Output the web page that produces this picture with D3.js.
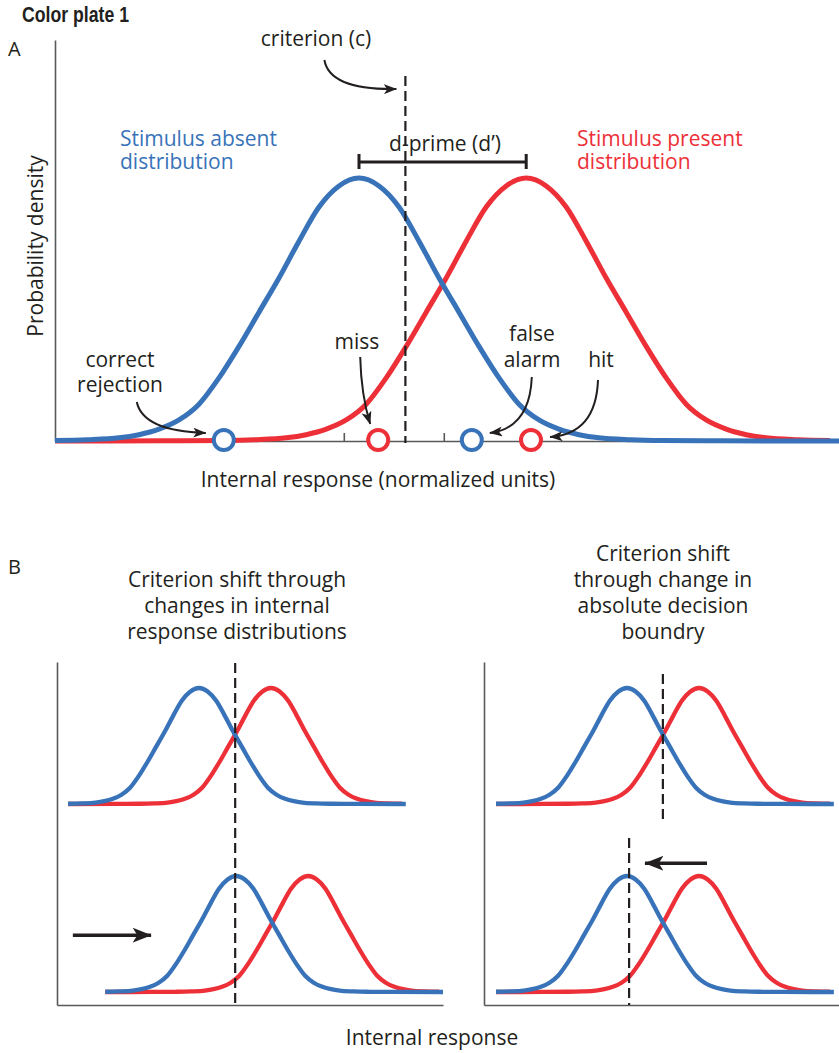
<!DOCTYPE html>
<html>
<head>
<meta charset="utf-8">
<script src="https://cdn.jsdelivr.net/npm/d3@7"></script>
<style>
    body { margin: 0; background: #fff; }
    text { font-family: "Open Sans", sans-serif; fill: #231f20; }
</style>
</head>
<body>
<div id="chart"></div>
<script>
// bell shape: offset from the peak (in sd units) and relative height
const profileZ = [0, 0.25, 0.5, 0.75, 1, 1.25, 1.5, 1.75, 2, 2.25, 2.5, 2.75, 3, 3.4, 3.8, 4.5, 6];
const profileH = [1, 0.97, 0.89, 0.76, 0.62, 0.49, 0.36, 0.24, 0.14, 0.08, 0.045, 0.024, 0.012, 0.005, 0.002, 0.0005, 0];

// panel A (normalized units, sd = 1)
const absentMeanA = 0;
const presentMeanA = 2.09;
const criterionA = 0.58;
const ticksA = [-0.19, 1.06];
const outcomeNames = ["correct rejection", "miss", "false alarm", "hit"];
const outcomeX = [-1.69, 0.24, 1.41, 2.15];
const outcomeDist = ["absent", "present", "absent", "present"];

// panel B: top-left, bottom-left, top-right, bottom-right
const panelCol = ["left", "left", "right", "right"];
const panelRow = ["top", "bottom", "top", "bottom"];
const absentMeansB = [4.12, 5.2, 4.15, 4.15];
const presentMeansB = [6.21, 7.29, 6.24, 6.24];
const criteriaB = [5.17, null, 5.19, 4.21];

const colors = { absent: "#3873b9", present: "#ed2f38", ink: "#231f20", axis: "#58595b" };

const svg = d3.select("#chart")
    .append("svg")
    .attr("width", 839)
    .attr("height", 1053);

const defs = svg.append("defs");

const addHead = (id, w, h) => {
    defs.append("marker")
        .attr("id", id)
        .attr("viewBox", `0 0 ${w} ${h}`)
        .attr("refX", w - 0.5)
        .attr("refY", h / 2)
        .attr("markerWidth", w)
        .attr("markerHeight", h)
        .attr("markerUnits", "userSpaceOnUse")
        .attr("orient", "auto")
        .append("path")
        .attr("d", `M0,0 L${w},${h / 2} L0,${h} L${w * 0.25},${h / 2} Z`)
        .attr("fill", colors.ink);
};
addHead("head-small", 13, 10);
addHead("head-big", 19, 15);

// build the curve points for one distribution
const bellPoints = (mean, lo, hi) => {
    const pts = [];
    profileZ.forEach((z, i) => {
        pts.push([mean - z, profileH[i]]);
        if (z > 0) pts.push([mean + z, profileH[i]]);
    });
    const inside = pts.filter(p => p[0] >= lo - 1e-6 && p[0] <= hi + 1e-6)
        .sort((a, b) => a[0] - b[0]);
    if (inside[0][0] > lo + 1e-6) inside.unshift([lo, 0]);
    if (inside[inside.length - 1][0] < hi - 1e-6) inside.push([hi, 0]);
    return inside;
};

const drawPair = (g, x, y, absentMean, presentMean, width) => {
    const line = d3.line()
        .x(d => x(d[0]))
        .y(d => y(d[1]))
        .curve(d3.curveMonotoneX);
    const lo = absentMean - 3.8;
    g.append("path")
        .attr("d", line(bellPoints(presentMean, lo, presentMean + 3.8)))
        .attr("fill", "none")
        .attr("stroke", colors.present)
        .attr("stroke-width", width);
    g.append("path")
        .attr("d", line(bellPoints(absentMean, lo, absentMean + 6)))
        .attr("fill", "none")
        .attr("stroke", colors.absent)
        .attr("stroke-width", width);
};

const styleAxis = g => {
    g.select(".domain").attr("stroke", colors.axis).attr("stroke-width", 1.6);
    g.selectAll(".tick line").attr("stroke", colors.axis).attr("stroke-width", 1.6);
};

// one text element per line
const addText = (x, y, lines, opts = {}) => {
    lines.forEach((s, i) => {
        const t = svg.append("text")
            .attr("x", x)
            .attr("y", y + i * (opts.lh || 25))
            .attr("font-size", opts.size || 21)
            .attr("text-anchor", opts.anchor || "middle")
            .text(s);
        if (opts.color) t.style("fill", opts.color);
    });
};

// ---------- titles ----------
svg.append("text")
    .attr("x", 22)
    .attr("y", 22)
    .attr("font-size", 22)
    .attr("font-weight", "bold")
    .attr("textLength", 107)
    .attr("lengthAdjust", "spacingAndGlyphs")
    .style("font-family", "'Liberation Sans', Arial, sans-serif")
    .text("Color plate 1");

addText(8, 56, ["A"], { anchor: "start", size: 20 });
addText(8, 574, ["B"], { anchor: "start", size: 20 });

// ---------- panel A ----------
const xA = d3.scaleLinear().domain([-3.8, 6.0]).range([55, 839]);
const yA = d3.scaleLinear().domain([0, 1.525]).range([441, 40]);
const gA = svg.append("g");

gA.append("g")
    .attr("transform", "translate(0,441)")
    .call(d3.axisBottom(xA).tickValues(ticksA).tickSize(-8).tickSizeOuter(0).tickFormat(""))
    .call(styleAxis);
gA.append("g")
    .attr("transform", "translate(55,0)")
    .call(d3.axisLeft(yA).tickValues([]).tickSizeOuter(0))
    .call(styleAxis);

drawPair(gA, xA, yA, absentMeanA, presentMeanA, 5);

// criterion line
const critX = xA(criterionA);
gA.append("line")
    .attr("x1", critX).attr("x2", critX)
    .attr("y1", 76).attr("y2", 443)
    .attr("stroke", colors.ink)
    .attr("stroke-width", 2.2)
    .attr("stroke-dasharray", "10,5");

// d-prime bracket
const dpY = 162;
gA.append("path")
    .attr("d", `M${xA(absentMeanA)},${dpY - 8}V${dpY + 7}M${xA(absentMeanA)},${dpY}H${xA(presentMeanA)}M${xA(presentMeanA)},${dpY - 8}V${dpY + 7}`)
    .attr("fill", "none")
    .attr("stroke", colors.ink)
    .attr("stroke-width", 3);

// outcome circles
const outcomes = outcomeNames.map((name, i) => ({ name, x: outcomeX[i], dist: outcomeDist[i] }));
gA.selectAll("circle.outcome")
    .data(outcomes)
    .join("circle")
    .attr("class", "outcome")
    .attr("cx", d => xA(d.x))
    .attr("cy", yA(0) - 1)
    .attr("r", 10)
    .attr("fill", "#fff")
    .attr("stroke", d => colors[d.dist])
    .attr("stroke-width", 4);

// annotation arrows (relative to the circle they point at)
const arrowOffsets = {
    "correct rejection": [[-87, -38], [-81, -9], [-18, -7]],
    "miss": [[-18, -83], [-17, -45], [-8, -16]],
    "false alarm": [[60, -63], [58, -12], [18, -7]],
    "hit": [[67, -60], [65, -6], [19, -3]]
};
outcomes.forEach(d => {
    const cx = xA(d.x), cy = yA(0) - 1;
    const [s, c, e] = arrowOffsets[d.name];
    gA.append("path")
        .attr("d", `M${cx + s[0]},${cy + s[1]}Q${cx + c[0]},${cy + c[1]} ${cx + e[0]},${cy + e[1]}`)
        .attr("fill", "none")
        .attr("stroke", colors.ink)
        .attr("stroke-width", 2)
        .attr("marker-end", "url(#head-small)");
});

// criterion arrow
gA.append("path")
    .attr("d", `M${critX - 81},60Q${critX - 76},90 ${critX - 9},89`)
    .attr("fill", "none")
    .attr("stroke", colors.ink)
    .attr("stroke-width", 2)
    .attr("marker-end", "url(#head-small)");

// panel A labels
addText(316, 46, ["criterion (c)"]);
addText(445, 151, ["d-prime (d\u2019)"]);
addText(120, 146, ["Stimulus absent", "distribution"], { anchor: "start", color: colors.absent, lh: 23 });
addText(577, 146, ["Stimulus present", "distribution"], { anchor: "start", color: colors.present, lh: 23 });
addText(120, 367, ["correct", "rejection"]);
addText(357, 349, ["miss"]);
addText(532, 341, ["false", "alarm"], { lh: 26 });
addText(601, 367, ["hit"]);
addText(378, 487, ["Internal response (normalized units)"]);

svg.append("text")
    .attr("transform", "translate(43,246) rotate(-90)")
    .attr("text-anchor", "middle")
    .attr("font-size", 21)
    .text("Probability density");

// ---------- panel B ----------
const xB = {
    left: d3.scaleLinear().domain([0, 11.2]).range([57, 443]),
    right: d3.scaleLinear().domain([0, 10.3]).range([484, 839])
};
const yB = {
    top: d3.scaleLinear().domain([0, 1]).range([804, 688]),
    bottom: d3.scaleLinear().domain([0, 1]).range([992, 876])
};
const yFrame = d3.scaleLinear().domain([0, 1]).range([1005, 662]);
const gB = svg.append("g");

["left", "right"].forEach(col => {
    gB.append("g")
        .attr("transform", "translate(0,1005)")
        .call(d3.axisBottom(xB[col]).tickValues([]).tickSizeOuter(0))
        .call(styleAxis);
    gB.append("g")
        .attr("transform", `translate(${xB[col].range()[0]},0)`)
        .call(d3.axisLeft(yFrame).tickValues([]).tickSizeOuter(0))
        .call(styleAxis);
});

panelCol.forEach((col, i) => {
    drawPair(gB, xB[col], yB[panelRow[i]], absentMeansB[i], presentMeansB[i], 4.3);
});

// criterion lines in B (vertical extent in px)
const critSpans = [[663, 1005], null, [674, 822], [838, 1005]];
criteriaB.forEach((c, i) => {
    if (c === null) return;
    const x = xB[panelCol[i]](c);
    gB.append("line")
        .attr("x1", x).attr("x2", x)
        .attr("y1", critSpans[i][0]).attr("y2", critSpans[i][1])
        .attr("stroke", colors.ink)
        .attr("stroke-width", 2.2)
        .attr("stroke-dasharray", "10,5");
});

// shift arrows
gB.append("line")
    .attr("x1", xB.left(0.46)).attr("x2", xB.left(2.73))
    .attr("y1", yB.bottom(0.49)).attr("y2", yB.bottom(0.49))
    .attr("stroke", colors.ink)
    .attr("stroke-width", 3.5)
    .attr("marker-end", "url(#head-big)");
gB.append("line")
    .attr("x1", xB.right(6.47)).attr("x2", xB.right(4.67))
    .attr("y1", yB.bottom(1.11)).attr("y2", yB.bottom(1.11))
    .attr("stroke", colors.ink)
    .attr("stroke-width", 3.5)
    .attr("marker-end", "url(#head-big)");

addText(237, 587, ["Criterion shift through", "changes in internal", "response distributions"], { lh: 26 });
addText(663, 561, ["Criterion shift", "through change in", "absolute decision", "boundry"], { lh: 26 });
addText(432, 1045, ["Internal response"]);
</script>
</body>
</html>
